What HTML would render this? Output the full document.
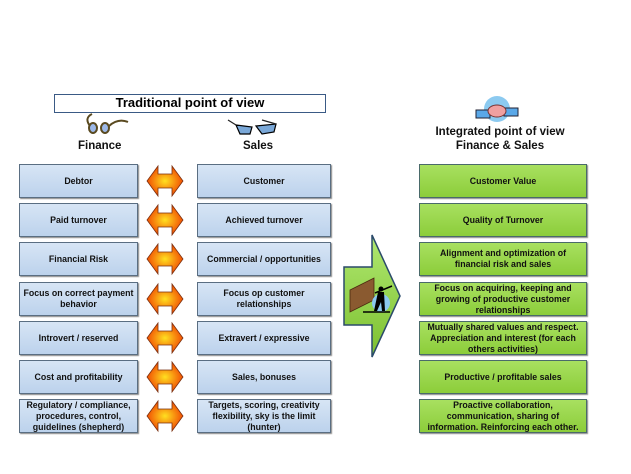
<!DOCTYPE html>
<html><head><meta charset="utf-8"><style>
body{margin:0;width:631px;height:474px;background:#fff;position:relative;overflow:hidden;font-family:"Liberation Sans",sans-serif}
.b{position:absolute;box-sizing:border-box;height:34px;display:flex;align-items:center;justify-content:center;text-align:center;font-weight:bold;font-size:8.8px;line-height:11px;color:#111;border:1.5px solid #5a6e82;box-shadow:1px 1px 1px #888}
.l{left:19px;width:119px;background:linear-gradient(#d7e5f5,#bcd2ec)}
.s{left:197px;width:134px;background:linear-gradient(#d7e5f5,#bcd2ec)}
.g{left:419px;width:168px;background:linear-gradient(#a8e060,#8ccd3a);border-color:#4a6a6a}
.t{position:absolute;font-weight:bold;color:#111}
</style></head><body>
<div style="position:absolute;left:54px;top:94px;width:272px;height:19px;box-sizing:border-box;border:1.5px solid #3a5a85;text-align:center;font-weight:bold;font-size:13px;line-height:16px">Traditional point of view</div>
<div class="t" style="left:78px;top:140px;font-size:11.5px">Finance</div>
<div class="t" style="left:243px;top:140px;font-size:11.5px">Sales</div>
<div class="t" style="left:410px;top:125px;width:180px;text-align:center;font-size:11.5px;line-height:14px">Integrated point of view<br>Finance &amp; Sales</div>
<svg width="631" height="474" style="position:absolute;left:0;top:0">
<defs><radialGradient id="o" cx="50%" cy="50%" r="55%"><stop offset="0" stop-color="#ffe020"/><stop offset="1" stop-color="#f04000"/></radialGradient>
<linearGradient id="gr" x1="0" y1="0" x2="0" y2="1"><stop offset="0" stop-color="#b0e870"/><stop offset="1" stop-color="#7cc030"/></linearGradient></defs>
<g stroke="#7a3010" stroke-width="0.8" fill="url(#o)">
<path d="M147 181 L158 166 L158 174 L172 174 L172 166 L183 181 L172 196 L172 188 L158 188 L158 196Z" id="a"/>
<use href="#a" y="39"/><use href="#a" y="78"/><use href="#a" y="118"/><use href="#a" y="157"/><use href="#a" y="196"/><use href="#a" y="235"/>
</g>
<path d="M344 267 L372 267 L372 235 L400 296 L372 357 L372 325 L344 325Z" fill="url(#gr)" stroke="#2a4a6a" stroke-width="1.5"/>
<path d="M350 290 L374 278 L374 300 L350 312Z" fill="#8a5a30" stroke="#4a2a10" stroke-width="0.8"/>
<circle cx="381" cy="303" r="9" fill="#8ac8f0"/>
<path d="M363 312 L390 312" stroke="#000" stroke-width="1.5"/>
<path d="M378 292 L384 292 L385 311 L382 311 L381 302 L377 311 L374 311Z" fill="#000"/>
<path d="M375 293 L392 286" stroke="#000" stroke-width="1.5"/>
<circle cx="381" cy="289" r="2.5"/>
<g fill="#9cb8e8" stroke="#5a4a20" stroke-width="2"><ellipse cx="93" cy="128" rx="4" ry="5"/><ellipse cx="105" cy="128" rx="4" ry="5"/></g>
<path d="M90 126 Q84 118 92 114 M109 126 Q118 118 128 122" stroke="#5a4a20" stroke-width="2" fill="none"/>
<g fill="#7aa8d8" stroke="#000" stroke-width="1.2"><path d="M236 125 L252 127 L250 134 L240 134Z"/><path d="M256 126 L276 124 L274 132 L262 134Z"/></g>
<path d="M228 120 L236 125 M262 120 L276 124" stroke="#222" stroke-width="1.2"/>
<circle cx="497" cy="109" r="13" fill="#8ccaf0"/>
<rect x="476" y="110" width="14" height="8" fill="#5aa8e8" stroke="#223" stroke-width="1"/>
<rect x="504" y="108" width="14" height="8" fill="#5aa8e8" stroke="#223" stroke-width="1"/>
<ellipse cx="497" cy="111" rx="9" ry="6" fill="#f0a0a0" stroke="#733" stroke-width="1"/>
</svg>
<div class="b l" style="top:164px">Debtor</div>
<div class="b l" style="top:203px">Paid turnover</div>
<div class="b l" style="top:242px">Financial Risk</div>
<div class="b l" style="top:282px">Focus on correct payment<br>behavior</div>
<div class="b l" style="top:321px">Introvert / reserved</div>
<div class="b l" style="top:360px">Cost and profitability</div>
<div class="b l" style="top:399px">Regulatory / compliance,<br>procedures, control,<br>guidelines (shepherd)</div>
<div class="b s" style="top:164px">Customer</div>
<div class="b s" style="top:203px">Achieved turnover</div>
<div class="b s" style="top:242px">Commercial / opportunities</div>
<div class="b s" style="top:282px">Focus op customer<br>relationships</div>
<div class="b s" style="top:321px">Extravert / expressive</div>
<div class="b s" style="top:360px">Sales, bonuses</div>
<div class="b s" style="top:399px">Targets, scoring, creativity<br>flexibility, sky is the limit<br>(hunter)</div>
<div class="b g" style="top:164px">Customer Value</div>
<div class="b g" style="top:203px">Quality of Turnover</div>
<div class="b g" style="top:242px">Alignment and optimization of<br>financial risk and sales</div>
<div class="b g" style="top:282px">Focus on acquiring, keeping and<br>growing of productive customer<br>relationships</div>
<div class="b g" style="top:321px">Mutually shared values and respect.<br>Appreciation and interest (for each<br>others activities)</div>
<div class="b g" style="top:360px">Productive / profitable sales</div>
<div class="b g" style="top:399px">Proactive collaboration,<br>communication, sharing of<br>information. Reinforcing each other.</div>
</body></html>
